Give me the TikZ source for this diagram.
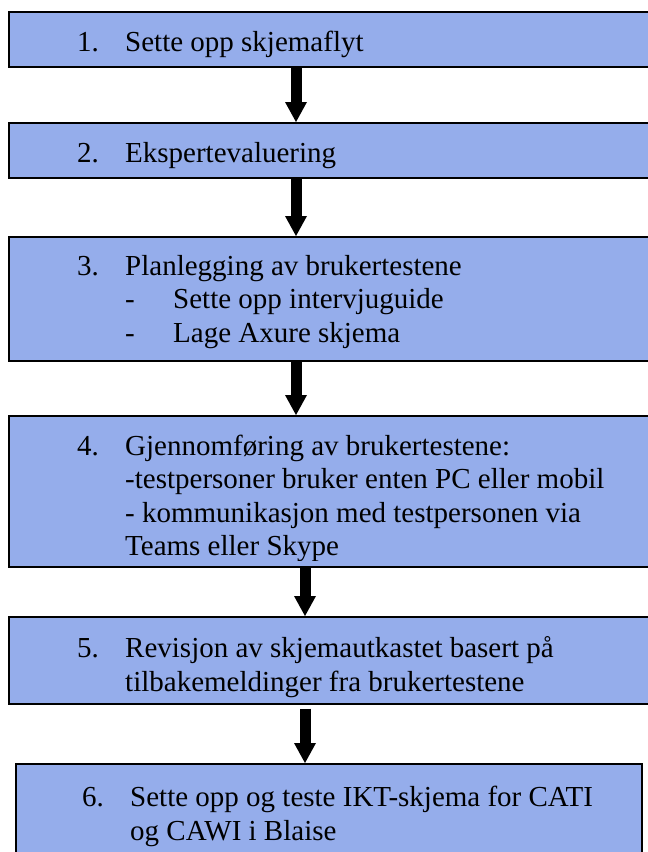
\documentclass[tikz,border=0pt]{standalone}
\usepackage{fontspec}
\setmainfont{Liberation Serif}
\usetikzlibrary{arrows.meta}
\definecolor{stepblue}{RGB}{149,173,235}
\newcommand{\stepno}[1]{\makebox[48pt][l]{#1}}
\newcommand{\stepgap}{\hspace*{48pt}}

\begin{document}
\begin{tikzpicture}[x=1pt, y=-1pt,
  stepbox/.style={draw=black, line width=1.5pt, fill=stepblue, anchor=north west, inner sep=0pt},
  steptext/.style={anchor=base west, align=left, inner sep=0pt, font=\fontsize{29}{33.5}\selectfont},
  flowarrow/.style={-{Triangle[width=22pt, length=20pt, line width=0pt]}, line width=11pt}]
  \useasboundingbox (0,0) rectangle (648,852);

  % Boxes
  \node[stepbox, minimum width=700pt, minimum height=55pt] (s1) at (8,11) {};
  \node[stepbox, minimum width=700pt, minimum height=55pt] (s2) at (8,122) {};
  \node[stepbox, minimum width=700pt, minimum height=124pt] (s3) at (8,236) {};
  \node[stepbox, minimum width=700pt, minimum height=151pt] (s4) at (8,415) {};
  \node[stepbox, minimum width=700pt, minimum height=87pt] (s5) at (8,616) {};
  \node[stepbox, minimum width=626pt, minimum height=120pt] (s6) at (15,763) {};

  % Texts (base = baseline of the last line)
  \node[steptext] (t1) at (77,51) {\stepno{1.}Sette opp skjemaflyt};
  \node[steptext] (t2) at (77,162) {\stepno{2.}Ekspertevaluering};
  \node[steptext] (t3) at (77,342) {\stepno{3.}Planlegging av brukertestene\\
    \stepgap\stepno{-}Sette opp intervjuguide\\
    \stepgap\stepno{-}Lage Axure skjema};
  \begin{scope}
    \clip (s4.north west) rectangle ([yshift=7pt]s4.south east);
    \node[steptext] (t4) at (77,555.5) {\stepno{4.}Gjennomføring av brukertestene:\\
      \stepgap -testpersoner bruker enten PC eller mobil\\
      \stepgap - kommunikasjon med testpersonen via\\
      \stepgap Teams eller Skype};
  \end{scope}
  \node[steptext] (t5) at (77,691) {\stepno{5.}Revisjon av skjemautkastet basert på\\
    \stepgap tilbakemeldinger fra brukertestene};
  \node[steptext] (t6) at (82,840) {\stepno{6.}Sette opp og teste IKT-skjema for CATI\\
    \stepgap og CAWI i Blaise};

  % Arrows
  \draw[flowarrow] ([xshift=288pt]s1.south west) -- ([xshift=288pt]s2.north west);
  \draw[flowarrow] ([xshift=288pt]s2.south west) -- ([xshift=288pt]s3.north west);
  \draw[flowarrow] ([xshift=288pt]s3.south west) -- ([xshift=288pt]s4.north west);
  \draw[flowarrow] ([xshift=297pt]s4.south west) -- ([xshift=297pt]s5.north west);
  \draw[flowarrow, shorten <=4pt] ([xshift=297pt]s5.south west) -- ([xshift=290pt]s6.north west);
\end{tikzpicture}
\end{document}
